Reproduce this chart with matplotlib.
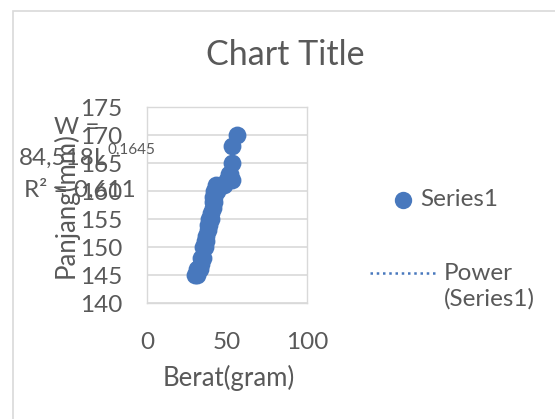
import numpy as np
import matplotlib
matplotlib.use("Agg")
import matplotlib.pyplot as plt
from matplotlib.lines import Line2D
from matplotlib.patches import Rectangle

# ---- data ----
berat = [30, 31, 32, 31, 33, 34, 34, 35, 35, 36, 36, 37, 37, 38, 38, 39, 39, 40, 40,
         41, 41, 41, 42, 42, 42, 43, 43, 44, 46, 48, 50, 51, 52, 53, 53, 53, 56]
panjang = [145, 145, 146, 146, 146, 147, 148, 148, 150, 150, 151, 151, 152, 153, 154, 154, 155, 155, 156,
           157, 158, 159, 158, 159, 160, 160, 161, 160, 161, 161, 162, 163, 163, 162, 165, 168, 170]
x_ticks = [0, 50, 100]
y_ticks = [140, 145, 150, 155, 160, 165, 170, 175]
title = "Chart Title"
x_label = "Berat(gram)"
y_label = "Panjang(mm)"
series_name = "Series1"
trend_name = "Power\n(Series1)"
eq_lines = ["W =", "84,518L", "0,1645", "R² = 0,611"]

W, H = 555, 419
plt.rcParams['font.family'] = ['Lato', 'DejaVu Sans']
TXT = '#595959'
GRID = '#d9d9d9'
BLUE = '#4878BD'
FS = 17.5

fig = plt.figure(figsize=(W / 100, H / 100), dpi=100)
fig.patch.set_facecolor('white')

def fx(px):
    return px / W

def fy(py):
    return 1 - py / H

# chart outer border (left and top visible)
fig.add_artist(Rectangle((fx(13), -0.2), 1.5, fy(10.5) + 0.2, transform=fig.transFigure,
                         fill=False, edgecolor=GRID, linewidth=1.2))

ax = fig.add_axes([fx(147), fy(303), fx(307) - fx(147), fy(107) - fy(303)])
ax.set_xlim(0, 100)
ax.set_ylim(140, 175)
ax.set_xticks(x_ticks)
ax.set_yticks(y_ticks)
ax.tick_params(length=0, labelsize=FS, labelcolor=TXT)
ax.tick_params(axis='y', pad=18)
ax.tick_params(axis='x', pad=21)
ax.grid(axis='y', color=GRID, linewidth=1.2)
ax.set_axisbelow(True)
for s in ax.spines.values():
    s.set_color(GRID)
    s.set_linewidth(1.0)

# power trendline fitted from data
bx = np.array(berat, float)
by = np.array(panjang, float)
b, lna = np.polyfit(np.log(bx), np.log(by), 1)
xs = np.linspace(bx.min(), bx.max(), 100)
ax.plot(xs, np.exp(lna) * xs ** b, linestyle=(0, (1, 1.5)), color=BLUE, linewidth=1.8, zorder=2)

ax.scatter(berat, panjang, s=165, color=BLUE, zorder=3, linewidths=0)

fig.text(fx(285), fy(55), title, ha='center', va='center', fontsize=24.5, color=TXT)
fig.text(fx(229), fy(378), x_label, ha='center', va='center', fontsize=18.5, color=TXT)
fig.text(fx(66), fy(205), y_label, ha='center', va='center', fontsize=18.5, color=TXT, rotation=90)

# trendline equation label
fig.text(fx(77), fy(128), eq_lines[0], ha='center', va='center', fontsize=FS, color=TXT)
fig.text(fx(107), fy(158), eq_lines[1], ha='right', va='center', fontsize=FS, color=TXT)
fig.text(fx(107), fy(150), eq_lines[2], ha='left', va='center', fontsize=11, color=TXT)
fig.text(fx(80), fy(190), eq_lines[3], ha='center', va='center', fontsize=FS, color=TXT)

# legend
fig.add_artist(Line2D([fx(403)], [fy(200)], marker='o', markersize=12.5, color=BLUE,
                      markeredgewidth=0, transform=fig.transFigure))
fig.text(fx(420), fy(200), series_name, ha='left', va='center', fontsize=FS, color=TXT)
fig.add_artist(Line2D([fx(370), fx(437)], [fy(273), fy(273)], linestyle=(0, (1, 1.5)),
                      color=BLUE, linewidth=1.8, transform=fig.transFigure))
fig.text(fx(444), fy(273), trend_name.split("\n")[0], ha='left', va='center', fontsize=FS, color=TXT)
fig.text(fx(444), fy(299), trend_name.split("\n")[1], ha='left', va='center', fontsize=FS, color=TXT)

fig.savefig("out.png", dpi=100)
